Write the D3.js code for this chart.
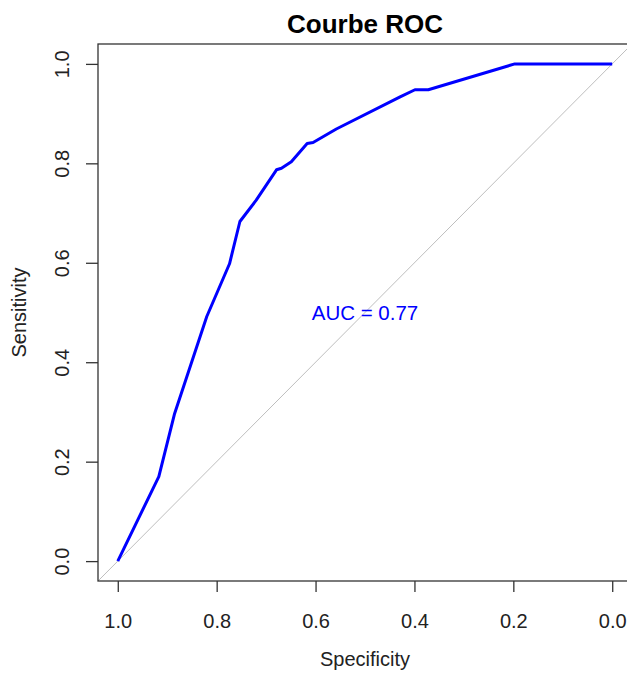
<!DOCTYPE html>
<html>
<head>
<meta charset="utf-8">
<script src="https://cdn.jsdelivr.net/npm/d3@7"></script>
<style>
  body { margin: 0; background: #fff; }
  text { font-family: "Liberation Sans", Arial, sans-serif; }
</style>
</head>
<body>
<svg id="chart" width="627" height="675"></svg>
<script>
// ROC points
var specificity = [1.0, 0.917, 0.885, 0.82, 0.774, 0.753, 0.72, 0.679, 0.669, 0.649, 0.617, 0.605, 0.558, 0.43, 0.399, 0.372, 0.197, 0.0];
var sensitivity = [0.0, 0.170, 0.297, 0.492, 0.598, 0.683, 0.726, 0.787, 0.79, 0.803, 0.840, 0.842, 0.869, 0.933, 0.948, 0.948, 1.0, 1.0];
var tickValues = [1.0, 0.8, 0.6, 0.4, 0.2, 0.0];
var aucLabel = "AUC = 0.77";

var svg = d3.select("#chart"),
    boxLeft = 98, boxRight = 632, boxTop = 44, boxBottom = 581;

// R-style 4% padding around [0,1]
var x = d3.scaleLinear().domain([1.04, -0.04]).range([boxLeft, boxRight]);
var y = d3.scaleLinear().domain([-0.04, 1.04]).range([boxBottom, boxTop]);

svg.append("clipPath").attr("id", "clip")
  .append("rect").attr("x", boxLeft).attr("y", boxTop)
  .attr("width", boxRight - boxLeft).attr("height", boxBottom - boxTop);

// diagonal
svg.append("line")
  .attr("clip-path", "url(#clip)")
  .attr("x1", x(1.04)).attr("y1", y(-0.04))
  .attr("x2", x(-0.04)).attr("y2", y(1.04))
  .attr("stroke", "#bebebe").attr("stroke-width", 1);

var pts = specificity.map(function(s, i) { return [s, sensitivity[i]]; });
var line = d3.line()
  .x(function(d) { return x(d[0]); })
  .y(function(d) { return y(d[1]); });

svg.append("path")
  .datum(pts)
  .attr("d", line)
  .attr("fill", "none")
  .attr("stroke", "#0000ff")
  .attr("stroke-width", 3)
  .attr("stroke-linejoin", "round");

// box
svg.append("rect")
  .attr("x", boxLeft).attr("y", boxTop)
  .attr("width", boxRight - boxLeft).attr("height", boxBottom - boxTop)
  .attr("fill", "none").attr("stroke", "#333").attr("stroke-width", 1.3);

// x axis
var xAxis = d3.axisBottom(x).tickValues(tickValues).tickSize(11).tickPadding(0)
  .tickFormat(d3.format(".1f"));
var gx = svg.append("g").attr("transform", "translate(0," + boxBottom + ")").call(xAxis);
gx.select(".domain").remove();
gx.selectAll(".tick line").attr("stroke", "#333").attr("stroke-width", 1.3);
gx.selectAll(".tick text").attr("y", 47).attr("dy", null)
  .attr("font-size", 20).attr("fill", "#222").style("font-family", "Liberation Sans, Arial, sans-serif");

// y axis
var yAxis = d3.axisLeft(y).tickValues(tickValues).tickSize(12)
  .tickFormat(d3.format(".1f"));
var gy = svg.append("g").attr("transform", "translate(" + boxLeft + ",0)").call(yAxis);
gy.select(".domain").remove();
gy.selectAll(".tick line").attr("stroke", "#333").attr("stroke-width", 1.3);
gy.selectAll(".tick text")
  .attr("x", null).attr("dy", null)
  .attr("text-anchor", "middle")
  .attr("transform", "translate(-29,0) rotate(-90)")
  .attr("font-size", 20).attr("fill", "#222").style("font-family", "Liberation Sans, Arial, sans-serif");

// labels
svg.append("text")
  .attr("x", (boxLeft + boxRight) / 2).attr("y", 33)
  .attr("text-anchor", "middle")
  .attr("font-size", 26).attr("font-weight", "bold").attr("fill", "#000")
  .text("Courbe ROC");

svg.append("text")
  .attr("x", (boxLeft + boxRight) / 2).attr("y", 666)
  .attr("text-anchor", "middle")
  .attr("font-size", 20).attr("fill", "#222")
  .text("Specificity");

svg.append("text")
  .attr("transform", "translate(26," + (boxTop + boxBottom) / 2 + ") rotate(-90)")
  .attr("text-anchor", "middle")
  .attr("font-size", 20).attr("fill", "#222")
  .text("Sensitivity");

svg.append("text")
  .attr("x", x(0.5)).attr("y", y(0.5))
  .attr("dy", "0.35em")
  .attr("text-anchor", "middle")
  .attr("font-size", 20.5).attr("fill", "#0000ff")
  .text(aucLabel);
</script>
</body>
</html>
